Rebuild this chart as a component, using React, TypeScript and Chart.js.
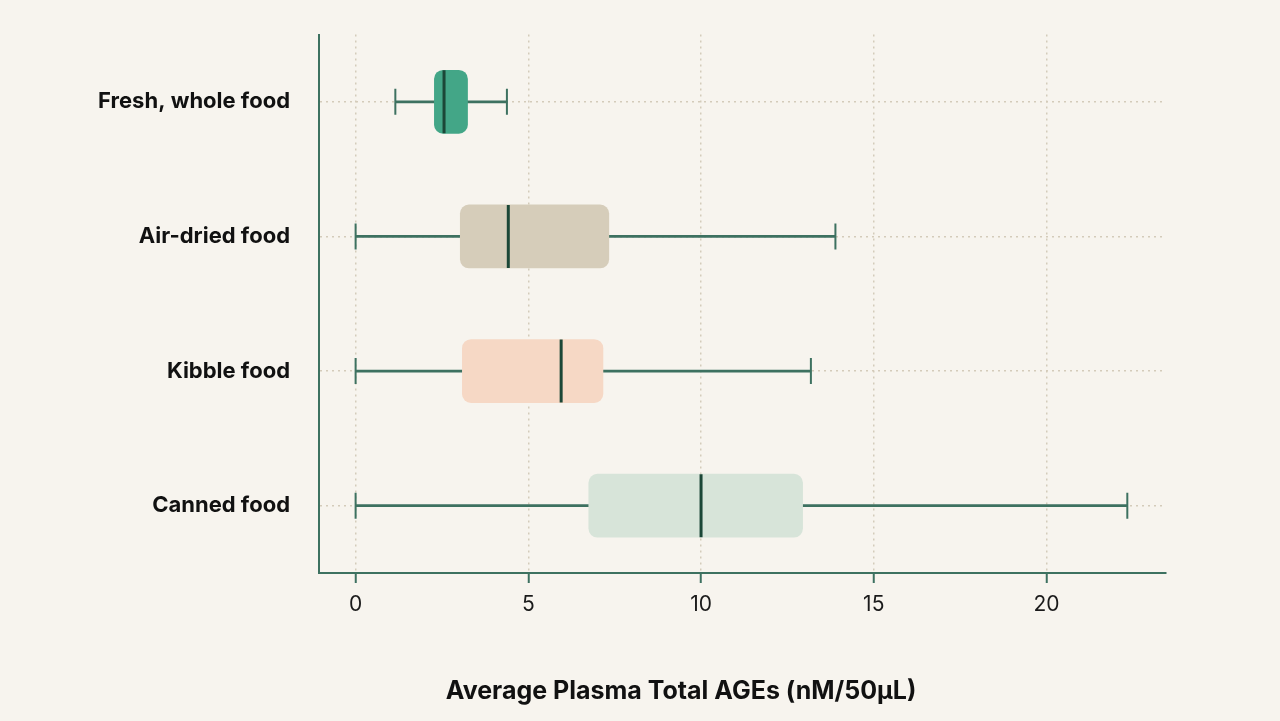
import React, { useEffect, useRef } from 'react';
import { Chart, registerables } from 'chart.js';

Chart.register(...registerables);

// categories, top to bottom
const categories = ['Fresh, whole food', 'Air-dried food', 'Kibble food', 'Canned food'];

// box plot stats (nM/50µL)
const whiskerLow = [1.15, 0, 0, 0];
const quartile1 = [2.28, 3.03, 3.09, 6.75];
const medians = [2.56, 4.42, 5.95, 10.0];
const quartile3 = [3.24, 7.33, 7.16, 12.94];
const whiskerHigh = [4.38, 13.89, 13.18, 22.34];

const xTicks = [0, 5, 10, 15, 20];
const xTitle = 'Average Plasma Total AGEs (nM/50µL)';

const boxColors = ['#43a687', '#d6cdba', '#f6d8c5', '#d7e4d9'];
const green = '#3d7160';
const darkGreen = '#1b4737';

export default function App() {
  const canvasRef = useRef<HTMLCanvasElement | null>(null);

  useEffect(() => {
    const ctx = canvasRef.current;
    if (!ctx) {
      return;
    }

    const capPoints = categories.flatMap((c, i) => [
      { x: whiskerLow[i], y: c },
      { x: whiskerHigh[i], y: c },
    ]);
    const medianPoints = categories.map((c, i) => ({ x: medians[i], y: c }));

    const chart = new Chart(ctx, {
      type: 'bar',
      data: {
        labels: categories,
        datasets: [
          {
            // whisker lines
            type: 'bar',
            data: categories.map((_, i) => [whiskerLow[i], whiskerHigh[i]]),
            backgroundColor: green,
            barThickness: 2,
            grouped: false,
            order: 4,
          },
          {
            // boxes q1..q3
            type: 'bar',
            data: categories.map((_, i) => [quartile1[i], quartile3[i]]),
            backgroundColor: boxColors,
            barThickness: 63,
            borderRadius: 9,
            borderSkipped: false,
            grouped: false,
            order: 3,
          },
          {
            // whisker caps
            type: 'line',
            data: capPoints as any,
            showLine: false,
            pointStyle: 'line',
            rotation: 90,
            pointRadius: 13,
            pointBorderWidth: 2,
            pointBorderColor: green,
            order: 2,
          } as any,
          {
            // medians
            type: 'line',
            data: medianPoints as any,
            showLine: false,
            pointStyle: 'line',
            rotation: 90,
            pointRadius: 31.5,
            pointBorderWidth: 3,
            pointBorderColor: darkGreen,
            order: 1,
          } as any,
        ],
      },
      options: {
        indexAxis: 'y',
        animation: false,
        responsive: true,
        maintainAspectRatio: false,
        events: [],
        layout: {
          padding: { left: 0, right: 114, top: 31, bottom: 0 },
        },
        plugins: {
          legend: { display: false },
          tooltip: { enabled: false },
        },
        scales: {
          x: {
            type: 'linear',
            min: -1.06,
            max: 23.46,
            afterBuildTicks: (scale) => {
              scale.ticks = xTicks.map((v) => ({ value: v }));
            },
            afterFit: (scale) => {
              scale.height = 148;
            },
            ticks: {
              includeBounds: false,
              color: '#1a1a1a',
              font: { family: 'Inter', size: 21 },
              padding: 9,
            },
            grid: {
              color: '#d4cbba',
              lineWidth: 1.5,
              tickColor: green,
              tickWidth: 2,
              tickLength: 10,
            },
            border: {
              display: true,
              color: green,
              width: 2,
              dash: [2, 4],
            },
          },
          y: {
            type: 'category',
            offset: true,
            afterFit: (scale) => {
              scale.width = 319;
            },
            ticks: {
              color: '#111111',
              font: { family: 'Inter', size: 22, weight: 'bold' },
              padding: 0,
            },
            grid: {
              offset: false,
              color: '#d4cbba',
              lineWidth: 1.5,
              drawTicks: true,
              tickLength: 29,
              tickColor: 'rgba(0,0,0,0)',
            },
            border: {
              display: true,
              color: green,
              width: 2,
              dash: [2, 4],
            },
          },
        },
      },
    });

    return () => {
      chart.destroy();
    };
  }, []);

  return (
    <div
      style={{
        position: 'fixed',
        top: 0,
        left: 0,
        width: '1280px',
        height: '721px',
        background: '#f7f4ee',
      }}
    >
      <canvas ref={canvasRef}></canvas>
      <div
        style={{
          position: 'absolute',
          top: '678px',
          left: '681px',
          transform: 'translateX(-50%)',
          whiteSpace: 'nowrap',
          fontFamily: 'Inter',
          fontWeight: 'bold',
          fontSize: '25px',
          lineHeight: '25px',
          color: '#111111',
        }}
      >
        {xTitle}
      </div>
    </div>
  );
}
